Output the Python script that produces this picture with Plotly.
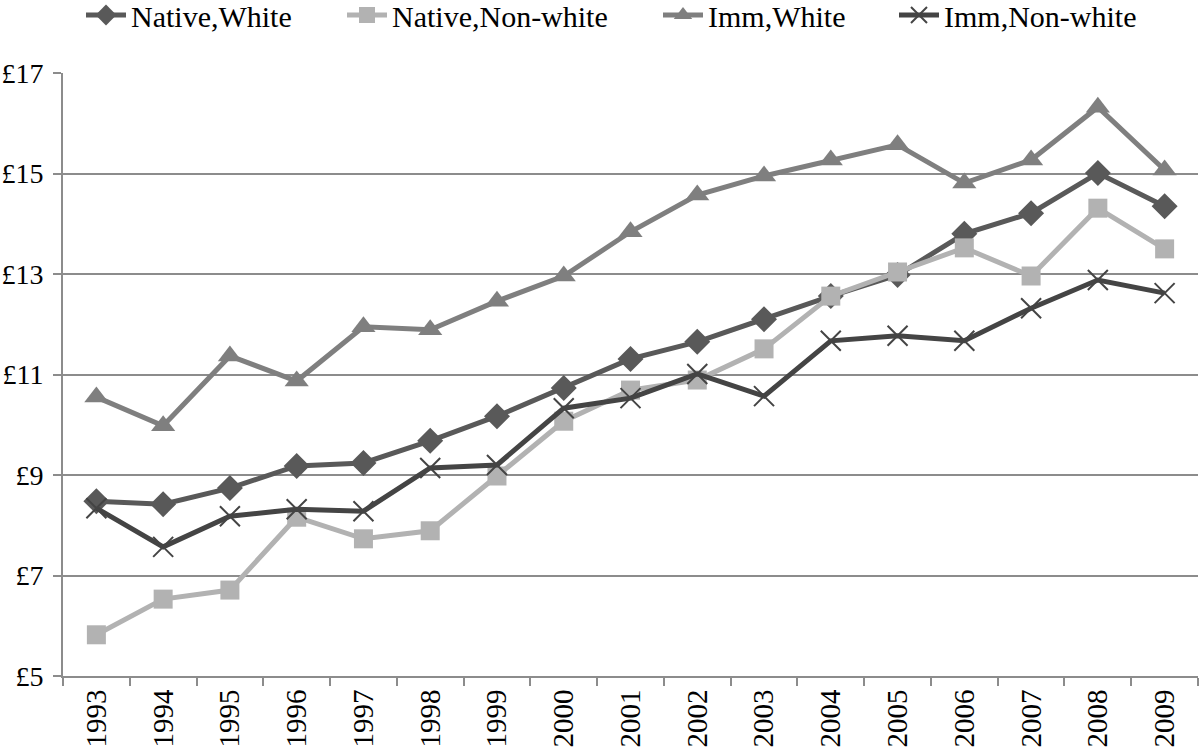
import plotly.graph_objects as go

years = [str(y) for y in range(1993, 2010)]
native_white = [8.48, 8.42, 8.74, 9.18, 9.24, 9.68, 10.17, 10.73, 11.31, 11.65, 12.10, 12.56, 12.98, 13.80, 14.21, 15.01, 14.35]
native_nonwhite = [5.82, 6.53, 6.71, 8.16, 7.73, 7.89, 8.98, 10.07, 10.69, 10.89, 11.51, 12.56, 13.04, 13.52, 12.96, 14.31, 13.50]
imm_white = [10.55, 9.98, 11.37, 10.87, 11.95, 11.89, 12.46, 12.96, 13.84, 14.57, 14.95, 15.27, 15.57, 14.81, 15.27, 16.32, 15.07]
imm_nonwhite = [8.34, 7.57, 8.18, 8.32, 8.28, 9.14, 9.20, 10.33, 10.53, 11.01, 10.57, 11.67, 11.77, 11.67, 12.32, 12.88, 12.62]

series = [
    ("Native,White", native_white, "#595959", dict(symbol="diamond", size=20)),
    ("Native,Non-white", native_nonwhite, "#b2b2b2", dict(symbol="square", size=19)),
    ("Imm,White", imm_white, "#7f7f7f", dict(symbol="triangle-up", size=21)),
    ("Imm,Non-white", imm_nonwhite, "#444444", dict(symbol="x-thin", size=20, line=dict(width=2, color="#444444"))),
]
legend_names = ["legend", "legend2", "legend3", "legend4"]
legend_text_start = [131, 392, 708, 944]  # screen px where legend text starts

W, H = 1200, 756
ML, MR, MT, MB = 63, 2, 73, 80
plot_w = W - ML - MR
plot_h = H - MT - MB

fig = go.Figure()
for (name, vals, color, marker), lg in zip(series, legend_names):
    m = dict(color=color)
    m.update(marker)
    fig.add_trace(go.Scatter(x=years, y=vals, name=name, mode="lines+markers", legend=lg,
                             line=dict(color=color, width=5), marker=m))

tick_font = dict(family="Liberation Serif, Times New Roman, serif", size=29, color="black")
ytick_font = dict(family="Liberation Serif, Times New Roman, serif", size=28, color="black")
leg_font = dict(family="Liberation Serif, Times New Roman, serif", size=30, color="black")

layout_legends = {}
for lg, ts in zip(legend_names, legend_text_start):
    layout_legends[lg] = dict(orientation="h", x=(ts - 50 - ML) / plot_w, xanchor="left",
                              y=1 + (MT - 15) / plot_h, yanchor="middle",
                              font=leg_font, itemwidth=40, bgcolor="rgba(0,0,0,0)")

fig.update_layout(
    width=W, height=H,
    margin=dict(l=ML, r=MR, t=MT, b=MB, autoexpand=False),
    paper_bgcolor="white", plot_bgcolor="white",
    font=tick_font,
    showlegend=True,
    xaxis=dict(type="category", range=[-0.5, 16.5], tickangle=-90, automargin=False,
               showline=True, linecolor="#8c8c8c", linewidth=2,
               ticks="outside", tickson="boundaries", ticklen=8, tickcolor="#8c8c8c", tickwidth=2,
               showgrid=False, tickfont=tick_font),
    yaxis=dict(range=[5, 17], tick0=5, dtick=2, tickprefix="£", automargin=False,
               showline=True, linecolor="#8c8c8c", linewidth=2,
               ticks="outside", ticklen=8, tickcolor="#8c8c8c", tickwidth=2,
               ticklabelstandoff=4,
               showgrid=True, gridcolor="#8c8c8c", gridwidth=2, zeroline=False,
               tickfont=ytick_font),
    **layout_legends,
)
fig.write_html("out.html", config={"displayModeBar": False},
               post_script="document.body.style.margin='0';")
